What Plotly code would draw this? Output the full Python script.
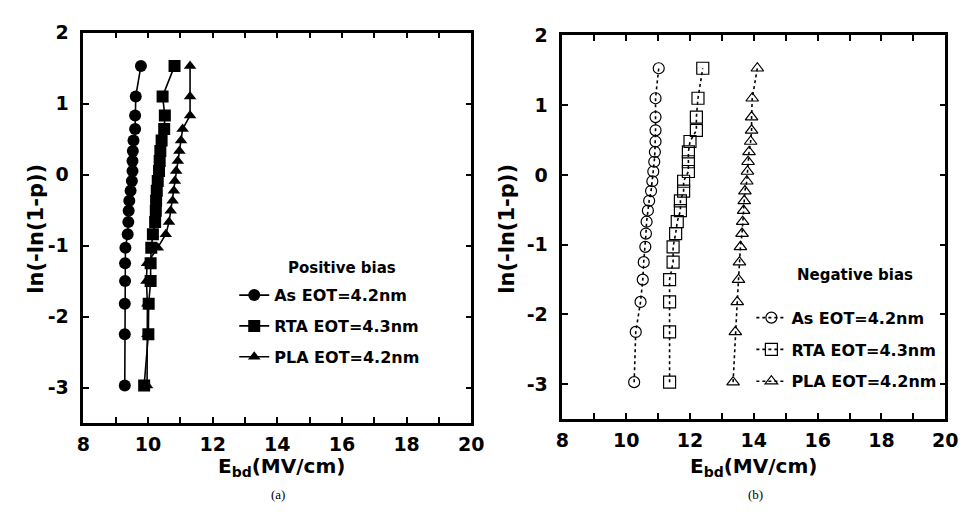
import plotly.graph_objects as go

W, H = 973, 517

# ---- data ----
weibull_y = [-2.97, -2.25, -1.82, -1.50, -1.25, -1.03, -0.84, -0.67, -0.51, -0.37,
             -0.23, -0.09, 0.05, 0.19, 0.33, 0.48, 0.64, 0.83, 1.10, 1.53]

pos_as = [9.28, 9.28, 9.28, 9.29, 9.29, 9.30, 9.37, 9.39, 9.40, 9.42,
          9.46, 9.50, 9.52, 9.52, 9.53, 9.55, 9.60, 9.60, 9.62, 9.78]
pos_rta = [9.88, 10.01, 10.02, 10.08, 10.08, 10.10, 10.15, 10.22, 10.24, 10.25,
           10.27, 10.30, 10.34, 10.36, 10.38, 10.42, 10.50, 10.52, 10.45, 10.82]
pos_pla = [9.97, 9.98, 9.98, 9.95, 9.97, 10.30, 10.55, 10.65, 10.70, 10.76,
           10.80, 10.83, 10.87, 10.92, 10.97, 11.02, 11.07, 11.30, 11.30, 11.30]

neg_as = [10.25, 10.30, 10.45, 10.52, 10.55, 10.60, 10.62, 10.64, 10.68, 10.72,
          10.78, 10.82, 10.85, 10.88, 10.90, 10.92, 10.92, 10.92, 10.92, 11.02]
neg_rta = [11.36, 11.36, 11.36, 11.36, 11.47, 11.47, 11.55, 11.60, 11.70, 11.70,
           11.80, 11.80, 11.95, 11.95, 11.95, 12.00, 12.20, 12.20, 12.25, 12.40]
neg_pla = [13.35, 13.42, 13.48, 13.52, 13.55, 13.58, 13.63, 13.65, 13.68, 13.70,
           13.72, 13.78, 13.80, 13.82, 13.85, 13.90, 13.93, 13.93, 13.95, 14.11]

series_names = ["As EOT=4.2nm", "RTA EOT=4.3nm", "PLA EOT=4.2nm"]
x_tickvals = [8, 10, 12, 14, 16, 18, 20]
y_tickvals = [-3, -2, -1, 0, 1, 2]
y_ticktext = ["-3", "-2", "-1", "0", "1", "2"]

FONT = "DejaVu Sans, Arial, sans-serif"

fig = go.Figure()

pos_sets = [pos_as, pos_rta, pos_pla]
pos_symbols = ["circle", "square", "triangle-up"]
pos_sizes = [12, 12, 11]
for name, xs, sym, sz in zip(series_names, pos_sets, pos_symbols, pos_sizes):
    fig.add_trace(go.Scatter(
        x=xs, y=weibull_y, mode="lines+markers", name=name,
        legend="legend", legendgroup="p" + name,
        line=dict(color="black", width=1.6),
        marker=dict(symbol=sym, size=sz, color="black"),
        xaxis="x", yaxis="y"))

neg_sets = [neg_as, neg_rta, neg_pla]
neg_symbols = ["circle-open", "square-open", "triangle-up-open"]
neg_sizes = [11, 12, 11]
for name, xs, sym, sz in zip(series_names, neg_sets, neg_symbols, neg_sizes):
    fig.add_trace(go.Scatter(
        x=xs, y=weibull_y, mode="lines+markers", name=name,
        legend="legend2", legendgroup="n" + name,
        line=dict(color="black", width=1.6, dash="3px,3px"),
        marker=dict(symbol=sym, size=sz, color="black", line=dict(width=1.2, color="black")),
        xaxis="x2", yaxis="y2"))


def px_x(p):
    return p / W


def px_y(p):
    return 1 - p / H


axis_common = dict(
    showline=True, linewidth=2.5, linecolor="black", mirror="allticks",
    ticks="inside", ticklen=6, tickwidth=1.5, tickcolor="black",
    showgrid=False, zeroline=False,
    tickfont=dict(family=FONT, size=19, color="black", weight="bold"),
)
x_minor = dict(dtick=1, ticks="inside", ticklen=6, tickwidth=1.5, tickcolor="black", showgrid=False)

legend_font = dict(family=FONT, size=16, color="black", weight="bold")

fig.update_layout(
    width=W, height=H, margin=dict(l=0, r=0, t=0, b=0),
    paper_bgcolor="white", plot_bgcolor="white",
    xaxis=dict(domain=[px_x(78), px_x(474)], range=[8, 20], anchor="y",
               tickvals=x_tickvals, minor=x_minor, ticklabelstandoff=2, **axis_common),
    yaxis=dict(domain=[px_y(421), px_y(22)], range=[-3.5, 2], anchor="x",
               tickvals=y_tickvals, ticktext=y_ticktext, ticklabelstandoff=8, **axis_common),
    xaxis2=dict(domain=[px_x(567), px_x(958)], range=[8, 20], anchor="y2",
                tickvals=x_tickvals, minor=x_minor, ticklabelstandoff=2, **axis_common),
    yaxis2=dict(domain=[px_y(417), px_y(25)], range=[-3.5, 2], anchor="x2",
                tickvals=y_tickvals, ticktext=y_ticktext, ticklabelstandoff=8, **axis_common),
    legend=dict(x=px_x(232), y=px_y(273), xanchor="left", yanchor="top",
                bgcolor="rgba(0,0,0,0)", tracegroupgap=7, font=legend_font),
    legend2=dict(x=px_x(760), y=px_y(296), xanchor="left", yanchor="top",
                 bgcolor="rgba(0,0,0,0)", tracegroupgap=8, font=legend_font),
    showlegend=True,
)

title_font = dict(family=FONT, size=20, color="black", weight="bold")
ytitle_font = dict(family=FONT, size=21, color="black", weight="bold")
note_font = dict(family=FONT, size=15, color="black", weight="bold")
serif_font = dict(family="Liberation Serif, Times New Roman, serif", size=13, color="black")
annots = [
    dict(text="Positive bias", x=px_x(342), y=px_y(263), font=note_font),
    dict(text="Negative bias", x=px_x(866), y=px_y(270), font=note_font),
    dict(text="ln(-ln(1-p))", x=px_x(30), y=px_y(222), textangle=-90, font=ytitle_font),
    dict(text="ln(-ln(1-p))", x=px_x(511), y=px_y(222), textangle=-90, font=ytitle_font),
    dict(text="E<sub>bd</sub>(MV/cm)", x=px_x(280), y=px_y(466), font=title_font),
    dict(text="E<sub>bd</sub>(MV/cm)", x=px_x(762), y=px_y(466), font=title_font),
    dict(text="(a)", x=px_x(277), y=px_y(494), font=serif_font),
    dict(text="(b)", x=px_x(764), y=px_y(494), font=serif_font),
]
for a in annots:
    a.update(xref="paper", yref="paper", showarrow=False, xanchor="center", yanchor="middle")
fig.update_layout(annotations=annots)

fig.write_html("out.html")
